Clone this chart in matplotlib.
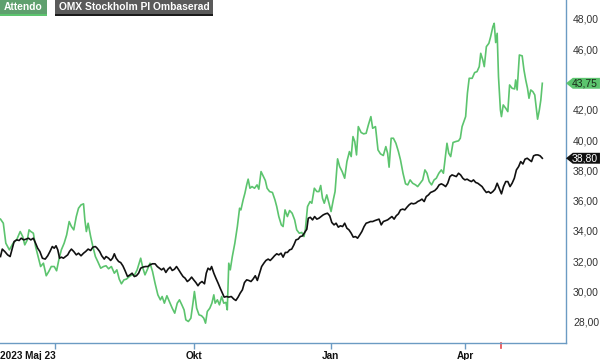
import matplotlib
matplotlib.use('Agg')
import matplotlib.pyplot as plt
import matplotlib.dates as mdates
from matplotlib.patches import Polygon, Rectangle
import pandas as pd

plt.rcParams['font.family'] = ['Liberation Sans', 'DejaVu Sans']

# Series start date; x values are given as days after it
start = pd.Timestamp('2023-05-23')

attendo_days = [
    0.0, 1.9, 3.6, 6.0, 8.5, 10.9, 13.3, 15.0, 16.4, 18.1,
    19.3, 20.5, 22.2, 23.7, 25.4, 27.1, 29.0, 30.9, 32.6, 34.3,
    36.3, 37.9, 39.4, 41.1, 43.0, 44.7, 46.4, 47.9, 49.5, 51.2,
    52.7, 54.4, 56.1, 57.0, 58.0, 59.2, 60.9, 62.4, 64.1, 65.7,
    67.7, 69.6, 71.3, 73.0, 74.9, 76.9, 78.6, 80.2, 81.7, 83.4,
    85.1, 87.0, 88.9, 90.6, 92.3, 93.3, 94.7, 96.2, 97.6, 99.1,
    101.0, 102.7, 104.4, 106.3, 108.0, 109.2, 110.7, 112.4, 114.1, 116.0,
    117.7, 119.4, 120.9, 122.5, 124.0, 125.2, 126.9, 128.6, 130.0, 131.0,
    132.5, 134.1, 135.8, 137.3, 138.5, 139.7, 141.4, 142.8, 144.1, 145.0,
    146.5, 147.9, 149.4, 150.8, 152.3, 153.2, 154.2, 155.2, 156.6, 158.3,
    160.0, 161.5, 162.4, 163.9, 165.1, 166.3, 167.3, 168.5, 169.9, 171.6,
    173.3, 174.5, 176.0, 177.6, 178.9, 180.1, 181.8, 183.7, 185.4, 186.6,
    188.0, 189.7, 190.9, 192.2, 193.8, 195.3, 197.0, 198.7, 200.1, 201.8,
    203.5, 205.0, 205.9, 207.4, 209.1, 210.3, 212.0, 213.7, 215.1, 216.3,
    217.5, 218.7, 220.4, 221.9, 223.3, 224.8, 226.0, 227.7, 229.1, 230.8,
    232.5, 234.0, 235.7, 236.9, 238.1, 239.3, 240.5, 241.7, 243.6, 245.3,
    247.0, 248.5, 250.2, 251.4, 253.3, 255.0, 256.7, 258.6, 260.3, 261.5,
    262.5, 263.9, 265.4, 267.1, 268.8, 270.2, 271.9, 273.6, 275.1, 276.7,
    278.4, 280.4, 281.8, 283.5, 285.2, 286.7, 288.1, 289.6, 291.2, 292.9,
    294.4, 296.1, 297.8, 299.2, 300.4, 301.6, 302.8, 304.1, 305.7, 307.4,
    309.4, 310.6, 311.8, 313.0, 314.2, 315.4, 316.6, 318.6, 320.3, 321.9,
    323.4, 324.4, 325.8, 326.8, 328.2, 329.9, 331.1, 332.6, 333.5, 334.5,
    335.5, 336.4, 337.7, 338.4, 339.6, 341.3, 342.7, 343.9, 345.6, 347.3,
    348.0, 349.0, 350.5, 352.4, 353.6, 354.8, 356.0, 357.0, 358.2, 359.6,
    360.9, 361.8, 362.8, 364.0, 365.0, 366.0,
]
attendo = [
    34.78, 34.51, 33.19, 32.75, 33.19, 33.41, 33.96, 33.63, 33.08, 33.41,
    34.07, 33.96, 33.85, 32.97, 32.31, 31.65, 31.87, 31.04, 31.32, 31.65,
    31.65, 31.37, 32.09, 32.75, 33.19, 33.74, 34.62, 34.29, 34.07, 34.95,
    35.50, 35.72, 35.79, 34.73, 33.96, 34.51, 33.63, 32.97, 32.31, 31.98,
    31.54, 31.65, 31.70, 31.50, 31.65, 31.21, 31.43, 30.82, 30.51, 30.77,
    30.82, 30.99, 31.10, 31.10, 31.43, 31.76, 32.20, 31.54, 31.10, 31.43,
    31.87, 31.32, 30.55, 29.78, 29.45, 29.67, 29.23, 29.72, 29.34, 28.90,
    28.57, 29.23, 29.45, 29.12, 28.79, 28.13, 28.02, 28.24, 29.23, 30.00,
    28.90, 28.46, 28.40, 28.24, 27.91, 28.68, 28.90, 29.23, 29.78, 29.23,
    29.45, 29.12, 29.67, 29.23, 29.28, 28.79, 31.87, 31.43, 32.31, 33.19,
    34.29, 35.50, 35.39, 36.05, 36.49, 37.04, 37.42, 36.82, 36.93, 36.82,
    37.04, 36.76, 37.92, 37.59, 37.33, 36.82, 36.60, 36.54, 36.05, 35.61,
    34.95, 34.40, 34.29, 35.39, 34.95, 35.35, 35.17, 34.73, 34.07, 33.85,
    33.90, 33.63, 34.07, 35.61, 35.94, 35.83, 36.82, 36.60, 36.60, 37.00,
    36.16, 35.83, 36.38, 35.83, 35.28, 36.05, 36.60, 38.76, 38.25, 37.92,
    37.48, 38.58, 39.24, 38.91, 40.23, 39.90, 39.02, 40.89, 40.50, 40.41,
    40.45, 41.00, 41.55, 40.78, 40.89, 39.35, 39.09, 38.98, 39.57, 39.13,
    38.21, 40.12, 40.12, 39.79, 39.24, 38.69, 37.81, 37.11, 37.04, 37.37,
    37.15, 37.04, 36.93, 37.15, 37.37, 38.03, 37.81, 37.26, 37.04, 37.37,
    37.48, 37.81, 38.03, 37.81, 38.80, 39.79, 39.13, 38.91, 39.84, 39.90,
    39.95, 40.12, 40.89, 41.22, 41.55, 43.09, 44.08, 44.08, 44.46, 44.52,
    44.85, 45.73, 45.29, 44.85, 46.17, 46.39, 46.83, 47.49, 47.71, 46.44,
    47.05, 44.19, 41.99, 41.55, 42.32, 42.10, 41.88, 43.64, 43.42, 43.38,
    43.97, 43.31, 45.62, 45.56, 44.63, 43.97, 43.42, 42.76, 43.31, 43.20,
    42.98, 42.21, 41.38, 41.99, 42.65, 43.75,
]

omx_days = [
    0.0, 1.2, 2.9, 4.8, 6.5, 8.0, 9.2, 10.9, 12.6, 14.0,
    15.7, 17.4, 18.9, 20.5, 22.2, 23.7, 25.1, 26.6, 28.3, 30.2,
    31.9, 33.4, 35.0, 36.3, 37.5, 38.7, 39.9, 41.1, 42.5, 44.0,
    45.4, 46.6, 47.9, 49.5, 51.2, 52.7, 54.4, 56.1, 57.5, 59.2,
    60.9, 62.4, 64.1, 65.3, 67.0, 68.4, 70.1, 71.3, 73.0, 74.4,
    75.7, 76.9, 78.1, 79.8, 81.2, 82.7, 84.1, 85.8, 87.5, 88.9,
    90.4, 91.8, 93.3, 94.7, 96.2, 97.9, 99.6, 101.0, 102.7, 104.4,
    105.9, 107.3, 108.8, 110.2, 111.7, 113.1, 114.6, 116.0, 117.5, 118.9,
    120.4, 121.8, 123.3, 124.7, 126.2, 127.6, 129.1, 130.5, 132.0, 133.4,
    134.6, 136.1, 137.8, 139.0, 140.2, 141.6, 142.6, 144.1, 145.5, 147.0,
    148.4, 149.9, 151.1, 152.8, 154.2, 155.9, 157.6, 159.0, 160.5, 161.9,
    163.4, 164.8, 166.3, 167.7, 169.2, 170.6, 172.1, 173.5, 175.0, 176.4,
    177.9, 179.3, 180.8, 182.2, 183.7, 185.1, 186.6, 188.0, 189.5, 190.9,
    192.4, 193.8, 195.3, 196.7, 198.2, 199.6, 201.1, 202.5, 204.0, 205.4,
    206.9, 207.9, 209.3, 210.8, 212.2, 213.7, 215.1, 216.6, 218.0, 219.5,
    220.9, 222.4, 223.8, 225.3, 226.7, 228.2, 229.6, 231.1, 232.5, 234.0,
    235.4, 236.9, 238.3, 239.8, 241.2, 242.7, 244.1, 245.6, 247.0, 248.5,
    249.9, 251.4, 252.8, 254.3, 255.7, 257.2, 258.6, 260.1, 261.5, 263.0,
    264.4, 265.9, 267.3, 268.8, 270.2, 271.7, 273.1, 274.6, 276.0, 277.5,
    278.9, 280.4, 281.8, 283.3, 284.7, 286.2, 287.6, 289.1, 290.5, 292.0,
    293.4, 294.9, 296.3, 297.8, 299.2, 300.7, 302.1, 303.6, 305.0, 306.5,
    307.9, 309.4, 310.8, 312.3, 313.7, 315.2, 316.6, 318.1, 319.5, 321.0,
    322.4, 323.9, 325.3, 326.8, 328.2, 329.7, 331.1, 332.6, 334.0, 335.5,
    336.9, 338.4, 339.8, 341.3, 342.7, 344.2, 345.6, 347.1, 348.5, 350.0,
    351.4, 352.9, 354.3, 355.8, 357.2, 358.7, 360.1, 361.6, 363.0, 364.5,
    366.0,
]
omx = [
    32.31, 32.80, 32.64, 32.42, 32.31, 32.86, 33.30, 33.41, 33.37, 33.52,
    33.41, 33.46, 33.52, 33.41, 33.52, 33.19, 32.86, 32.64, 32.20, 32.14,
    32.36, 32.64, 32.97, 32.86, 33.02, 32.75, 32.20, 32.27, 32.20, 32.31,
    32.42, 32.64, 32.80, 32.64, 32.42, 32.53, 32.36, 32.53, 32.64, 32.80,
    32.71, 32.93, 32.97, 32.86, 32.64, 32.36, 32.14, 32.31, 32.20, 32.05,
    32.20, 32.49, 32.20, 31.98, 31.91, 31.69, 31.39, 30.99, 31.10, 31.21,
    30.99, 31.04, 31.21, 31.54, 31.61, 31.65, 31.65, 31.76, 31.83, 31.83,
    31.65, 31.54, 31.43, 31.54, 31.26, 31.47, 31.61, 31.39, 31.47, 31.65,
    31.43, 31.21, 30.99, 30.88, 30.66, 30.77, 30.95, 30.77, 30.59, 30.38,
    30.55, 30.66, 30.51, 31.21, 31.54, 31.43, 31.65, 31.21, 30.88, 30.55,
    30.22, 29.89, 29.63, 29.67, 29.63, 29.67, 29.50, 29.41, 29.63, 29.89,
    30.11, 30.59, 30.77, 30.73, 30.66, 30.82, 31.04, 30.73, 31.21, 31.65,
    31.87, 32.05, 32.14, 32.05, 32.20, 32.36, 32.49, 32.42, 32.53, 32.27,
    32.58, 32.58, 32.75, 32.80, 33.08, 33.41, 33.46, 33.63, 33.67, 33.89,
    34.11, 34.84, 34.90, 34.73, 34.95, 34.78, 34.84, 34.95, 35.06, 35.13,
    35.17, 35.00, 34.56, 34.40, 34.51, 34.25, 34.34, 34.29, 34.51, 34.18,
    34.07, 33.85, 33.59, 33.63, 33.52, 33.74, 33.96, 34.29, 34.51, 34.56,
    34.62, 34.62, 34.68, 34.73, 34.78, 34.40, 34.62, 34.68, 34.73, 34.84,
    34.95, 34.78, 35.00, 35.13, 35.39, 35.44, 35.39, 35.57, 35.72, 35.83,
    35.79, 35.83, 35.94, 36.01, 36.10, 35.94, 36.27, 36.38, 36.54, 36.60,
    36.67, 36.82, 37.04, 37.11, 37.04, 36.93, 37.15, 37.59, 37.70, 37.64,
    37.59, 37.81, 37.70, 37.48, 37.37, 37.42, 37.33, 37.26, 37.37, 37.20,
    37.15, 37.04, 36.93, 36.71, 36.54, 36.60, 36.49, 36.60, 36.76, 37.15,
    36.82, 36.45, 36.93, 37.26, 37.26, 36.93, 37.15, 37.48, 38.03, 38.25,
    38.58, 38.42, 38.74, 38.80, 38.69, 38.58, 38.96, 39.02, 39.02, 38.96,
    38.80,
]

tick_dates = ['2023-06-29', '2023-10-01', '2024-01-01', '2024-04-01']
tick_labels = ['2023 Maj 23', 'Okt', 'Jan', 'Apr']
report_date = '2024-04-25'
y_ticks = [28, 30, 32, 34, 36, 38, 40, 42, 44, 46, 48]

GREEN = '#5cc46e'
AXIS = '#6b9bc3'


def to_dates(days):
    return (start + pd.to_timedelta(days, unit='D')).values


def fmt(v):
    return f'{v:.2f}'.replace('.', ',')


W, H = 600, 360
fig = plt.figure(figsize=(W / 100, H / 100), dpi=100)
ax = fig.add_axes([0, 17 / H, 566 / W, 343 / H])

ax.plot(to_dates(attendo_days), attendo, color=GREEN, lw=1.2, solid_joinstyle='round')
ax.plot(to_dates(omx_days), omx, color='#111111', lw=1.2, solid_joinstyle='round')

ax.set_xlim(start - pd.Timedelta(hours=8), start + pd.Timedelta(days=382))
ax.set_ylim(26.6, 49.25)

for side in ['top', 'left']:
    ax.spines[side].set_visible(False)
for side in ['right', 'bottom']:
    ax.spines[side].set_color(AXIS)
    ax.spines[side].set_linewidth(1.0)

# y axis on the right, comma decimals; a label under a value tag is left out
last_values = [attendo[-1], omx[-1]]
ax.yaxis.tick_right()
ax.set_yticks(y_ticks)
ax.set_yticklabels(['' if any(abs(v - lv) < 0.5 for lv in last_values) else fmt(v)
                    for v in y_ticks])
ax.tick_params(axis='y', length=0, pad=5, labelsize=7.5, labelcolor='#333333')

# x axis month ticks
ax.set_xticks(mdates.date2num(pd.to_datetime(tick_dates)))
ax.set_xticklabels(tick_labels, fontweight='bold')
ax.tick_params(axis='x', length=4, width=1, color=AXIS, pad=1.5, labelsize=7.2, labelcolor='#111111')
ax.get_xticklabels()[0].set_ha('right')

# red event marker under the axis
rd = mdates.date2num(pd.Timestamp(report_date))
ax.plot([rd, rd], [0, -0.014], transform=ax.get_xaxis_transform(),
        color='#e8474a', lw=1.2, clip_on=False)


def value_tag(value, face, text_color):
    tr = ax.get_yaxis_transform()
    h = 0.36
    pts = [(1.0, value), (1.012, value + h), (1.06, value + h),
           (1.06, value - h), (1.012, value - h)]
    ax.add_patch(Polygon(pts, closed=True, transform=tr, facecolor=face,
                         edgecolor='none', clip_on=False, zorder=5))
    ax.text(1.056, value, fmt(value), transform=tr, ha='right', va='center',
            fontsize=7.5, color=text_color, clip_on=False, zorder=6)


value_tag(attendo[-1], GREEN, '#1a2a1a')
value_tag(omx[-1], '#111111', 'white')


# legend boxes at the top left
def legend_box(x0, width, label, face, under):
    fig.patches.append(Rectangle((x0 / W, 1 - 16 / H), width / W, 16 / H,
                                 transform=fig.transFigure, facecolor=face,
                                 edgecolor='none'))
    fig.patches.append(Rectangle((x0 / W, 1 - 16 / H), width / W, 2 / H,
                                 transform=fig.transFigure, facecolor=under,
                                 edgecolor='none'))
    fig.text((x0 + width / 2) / W, 1 - 7.5 / H, label, ha='center', va='center',
             fontsize=7.4, fontweight='bold', color='white')


legend_box(0, 47, 'Attendo', '#5fa06e', GREEN)
legend_box(55, 158, 'OMX Stockholm PI Ombaserad', '#5a5a5a', '#1a1a1a')

fig.savefig('out.png', dpi=100)
